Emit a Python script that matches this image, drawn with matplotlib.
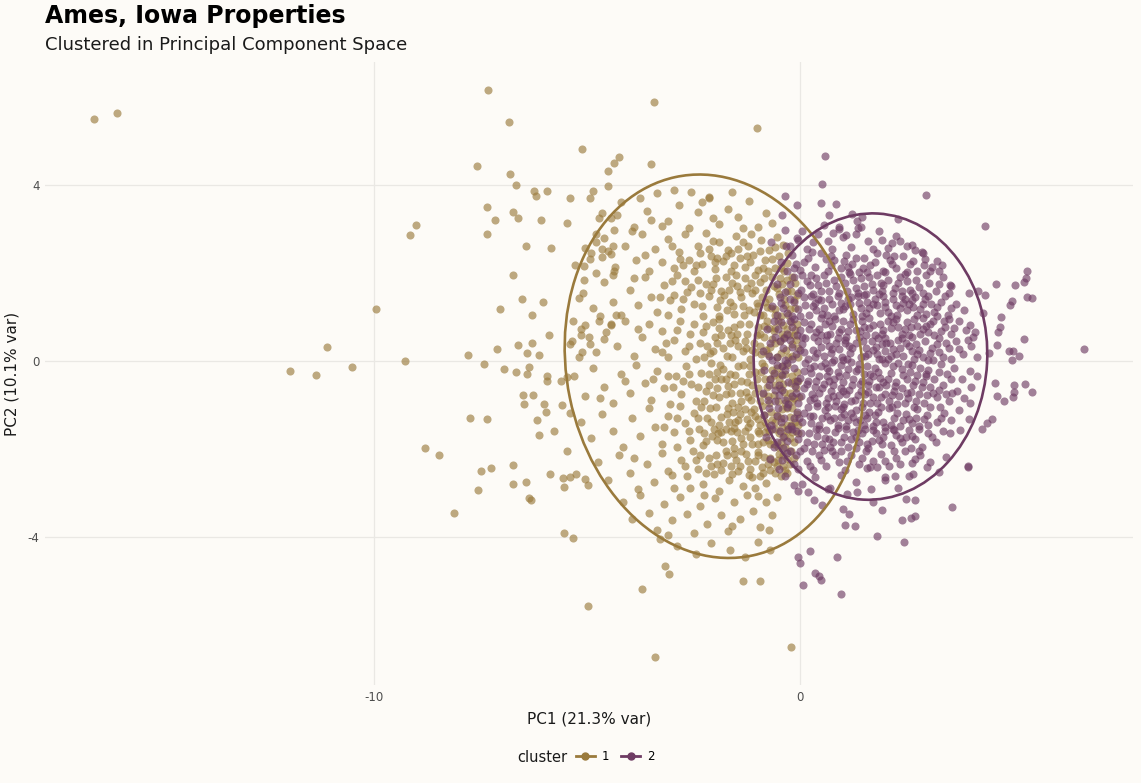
import matplotlib.pyplot as plt
from matplotlib.patches import Ellipse
from matplotlib.lines import Line2D
import numpy as np

plt.rcParams['axes.unicode_minus'] = False

# PC scores, (PC1, PC2)
cluster1_outliers = [
    (-16.56, 5.50), (-16.02, 5.64), (-11.97, -0.23), (-11.36, -0.32), (-11.10, 0.32), (-10.52, -0.14),
    (-9.95, 1.18), (-9.27, 0.0), (-9.16, 2.86), (-9.02, 3.09), (-8.81, -1.98), (-8.48, -2.14),
    (-8.13, -3.45), (-7.33, 6.16), (-6.84, 5.45), (-7.59, 4.43),
    (-5.11, 4.82), (-6.81, 4.25), (-6.67, 4.0), (-6.25, 3.86), (-6.21, 3.75), (-5.93, 3.86),
    (-5.41, 3.70), (-4.94, 3.70), (-4.87, 3.86), (-4.50, 4.32), (-4.36, 4.50), (-4.26, 4.64),
    (-4.50, 3.98), (-7.35, 3.50), (-7.17, 3.20), (-6.74, 3.39), (-6.63, 3.25), (-6.09, 3.20),
    (-5.46, 3.14), (-7.35, 2.89), (-6.44, 2.61), (-5.85, 2.57), (-6.74, 1.95), (-6.53, 1.41),
    (-6.04, 1.34), (-7.05, 1.18), (-6.30, 1.05), (-5.90, 0.59), (-7.12, 0.27), (-6.63, 0.36),
    (-6.30, 0.41), (-6.42, 0.18), (-6.14, 0.14), (-7.80, 0.14),
    (-5.29, 2.18), (-5.08, 2.16), (-4.80, 2.0), (-5.08, 1.84), (-5.20, 1.43), (-5.32, 0.91),
    (-5.15, 0.73), (-5.15, 0.59), (-5.39, 0.39), (-4.92, 0.39), (-5.11, 0.20), (-4.71, 0.91),
    (-4.45, 0.82), (-4.33, 1.05), (-4.61, 0.50), (-5.06, 2.57), (-4.92, 2.32), (-4.78, 2.70),
    (-4.66, 2.36), (-4.64, 2.55), (-4.45, 2.43), (-4.40, 2.61), (-4.40, 1.95), (-4.38, 2.05),
    (-4.36, 2.98), (-4.64, 3.36), (-4.71, 3.25), (-4.80, 2.89), (-4.29, 3.32),
    (-7.42, -0.07), (-6.96, -0.18), (-6.67, -0.25), (-6.42, -0.30), (-6.37, -0.14), (-5.93, -0.34),
    (-5.93, -0.45), (-5.62, -0.45), (-5.48, -0.36), (-6.51, -0.77), (-6.28, -0.77), (-6.49, -0.98),
    (-6.00, -0.98), (-5.97, -1.16), (-5.60, -1.0), (-7.75, -1.30), (-7.35, -1.32), (-6.18, -1.34),
    (-6.14, -1.68), (-5.78, -1.59), (-5.39, -1.18), (-7.49, -2.50), (-7.26, -2.43), (-6.74, -2.36),
    (-6.74, -2.80), (-6.44, -2.75), (-7.56, -2.93), (-6.37, -3.11), (-6.32, -3.16),
    (-5.88, -2.57), (-5.57, -2.66), (-5.41, -2.64), (-5.27, -2.57), (-5.53, -2.86), (-5.04, -2.68),
    (-4.99, -2.82), (-5.48, -2.05), (-5.55, -3.91), (-5.32, -4.02), (-4.99, -5.57),
    (-3.40, -6.73), (-3.70, -5.18), (-3.16, -4.66), (-3.07, -4.84), (-1.33, -5.0), (-0.94, -5.0),
    (-0.21, -6.52), (-1.01, 5.30), (-3.44, 5.89), (-3.49, 4.48), (-2.55, 3.84), (-2.13, 3.73),
]

cluster1_core = [
    (-4.2, 3.62), (-3.9, 3.05), (-3.6, 3.41), (-3.35, 3.82), (-3.1, 3.18), (-2.85, 3.55), (-2.6, 3.02),
    (-2.4, 3.38), (-2.15, 3.71), (-1.9, 3.12), (-1.7, 3.47), (-1.45, 3.28), (-1.2, 3.64), (-1.0, 3.05),
    (-0.8, 3.36), (-4.45, 3.25), (-3.75, 3.71), (-3.25, 3.08), (-2.95, 3.9), (-2.3, 3.62), (-1.6, 3.85),
    (-1.35, 3.02), (-0.65, 3.15), (-3.5, 3.2), (-2.05, 3.25),
    (-4.9, 2.45), (-4.6, 2.8), (-4.35, 2.15), (-4.1, 2.62), (-3.85, 2.3), (-3.7, 2.9), (-3.55, 2.05),
    (-3.4, 2.55), (-3.25, 2.25), (-3.1, 2.78), (-2.95, 2.12), (-2.85, 2.48), (-2.7, 2.88), (-2.6, 2.3),
    (-2.5, 2.05), (-2.4, 2.62), (-2.3, 2.2), (-2.2, 2.92), (-2.1, 2.4), (-2.0, 2.1), (-1.9, 2.7),
    (-1.8, 2.28), (-1.7, 2.52), (-1.62, 2.05), (-1.5, 2.85), (-1.42, 2.35), (-1.3, 2.15), (-1.22, 2.62),
    (-1.1, 2.42), (-1.0, 2.08), (-0.92, 2.75), (-0.82, 2.3), (-0.72, 2.52), (-0.6, 2.12), (-0.5, 2.4),
    (-0.4, 2.65), (-0.32, 2.22), (-3.95, 2.95), (-3.0, 2.62), (-2.75, 2.18), (-2.35, 2.45), (-1.95, 2.35),
    (-1.55, 2.18), (-1.15, 2.88), (-0.75, 2.05), (-4.5, 2.5), (-3.65, 2.42), (-2.05, 2.72), (-1.35, 2.7),
    (-0.55, 2.82),
    (-5.1, 1.55), (-4.85, 1.2), (-4.6, 1.8), (-4.4, 1.35), (-4.2, 1.05), (-4.0, 1.62), (-3.8, 1.28),
    (-3.65, 1.9), (-3.5, 1.45), (-3.35, 1.12), (-3.2, 1.72), (-3.05, 1.38), (-2.9, 1.95), (-2.8, 1.18),
    (-2.65, 1.58), (-2.5, 1.3), (-2.4, 1.85), (-2.28, 1.02), (-2.15, 1.48), (-2.05, 1.75), (-1.95, 1.22),
    (-1.85, 1.6), (-1.75, 1.92), (-1.65, 1.35), (-1.55, 1.08), (-1.48, 1.7), (-1.38, 1.45), (-1.3, 1.88),
    (-1.2, 1.15), (-1.12, 1.55), (-1.02, 1.32), (-0.95, 1.8), (-0.88, 1.05), (-0.8, 1.62), (-0.72, 1.4),
    (-0.65, 1.9), (-0.58, 1.18), (-0.5, 1.52), (-0.42, 1.75), (-0.35, 1.28), (-0.28, 1.05), (-0.22, 1.6),
    (-0.15, 1.38), (-4.7, 1.02), (-3.9, 1.88), (-3.1, 1.05), (-2.7, 1.82), (-2.35, 1.55), (-1.9, 1.02),
    (-1.6, 1.78), (-1.25, 1.65), (-0.98, 1.25), (-0.62, 1.7), (-0.45, 1.02), (-0.3, 1.85), (-2.95, 1.5),
    (-1.72, 1.15), (-1.05, 1.95), (-0.78, 1.22), (-0.12, 1.78),
    (-5.35, 0.45), (-5.05, 0.82), (-4.8, 0.2), (-4.55, 0.65), (-4.3, 0.35), (-4.1, 0.92), (-3.9, 0.12),
    (-3.7, 0.55), (-3.55, 0.85), (-3.4, 0.28), (-3.25, 0.68), (-3.1, 0.08), (-2.95, 0.48), (-2.82, 0.9),
    (-2.7, 0.22), (-2.58, 0.62), (-2.45, 0.05), (-2.35, 0.42), (-2.22, 0.8), (-2.12, 0.18), (-2.0, 0.55),
    (-1.9, 0.95), (-1.8, 0.3), (-1.7, 0.7), (-1.6, 0.1), (-1.52, 0.48), (-1.42, 0.85), (-1.35, 0.22),
    (-1.25, 0.62), (-1.18, 0.05), (-1.08, 0.4), (-1.0, 0.78), (-0.92, 0.15), (-0.85, 0.55), (-0.78, 0.92),
    (-0.7, 0.32), (-0.62, 0.68), (-0.55, 0.08), (-0.48, 0.45), (-0.4, 0.82), (-0.33, 0.25), (-0.26, 0.6),
    (-0.18, 0.12), (-0.1, 0.48), (-5.2, 0.1), (-4.95, 0.55), (-4.45, 0.85), (-3.8, 0.72), (-3.15, 0.4),
    (-2.62, 0.35), (-2.28, 0.65), (-1.95, 0.4), (-1.62, 0.6), (-1.3, 0.45), (-0.95, 0.35), (-0.75, 0.15),
    (-0.58, 0.75), (-0.38, 0.55), (-0.22, 0.88), (-0.05, 0.3),
    (-5.3, -0.35), (-5.05, -0.8), (-4.85, -0.15), (-4.6, -0.6), (-4.4, -0.95), (-4.2, -0.3), (-4.0, -0.72),
    (-3.85, -0.1), (-3.65, -0.5), (-3.5, -0.88), (-3.35, -0.22), (-3.2, -0.62), (-3.05, -0.98),
    (-2.92, -0.35), (-2.8, -0.75), (-2.68, -0.12), (-2.55, -0.52), (-2.45, -0.9), (-2.32, -0.28),
    (-2.2, -0.68), (-2.1, -0.05), (-2.0, -0.42), (-1.9, -0.82), (-1.8, -0.18), (-1.7, -0.58), (-1.6, -0.95),
    (-1.52, -0.32), (-1.42, -0.72), (-1.33, -0.1), (-1.25, -0.48), (-1.15, -0.88), (-1.07, -0.25),
    (-0.98, -0.62), (-0.9, -0.05), (-0.82, -0.4), (-0.75, -0.8), (-0.67, -0.2), (-0.6, -0.55),
    (-0.52, -0.92), (-0.45, -0.3), (-0.38, -0.7), (-0.3, -0.1), (-0.22, -0.5), (-0.15, -0.85),
    (-0.08, -0.25), (-4.7, -0.85), (-4.1, -0.45), (-3.45, -0.4), (-2.98, -0.6), (-2.6, -0.3), (-2.25, -0.9),
    (-1.95, -0.62), (-1.65, -0.3), (-1.38, -0.9), (-1.12, -0.55), (-0.88, -0.75), (-0.7, -0.42),
    (-0.55, -0.15), (-0.4, -0.52), (-0.25, -0.72), (-0.12, -0.45), (-1.85, -0.4), (-1.2, -0.3),
    (-0.95, -0.92), (-0.35, -0.95),
    (-5.15, -1.4), (-4.9, -1.75), (-4.65, -1.2), (-4.4, -1.6), (-4.15, -1.95), (-3.95, -1.3), (-3.75, -1.7),
    (-3.55, -1.08), (-3.4, -1.5), (-3.25, -1.88), (-3.1, -1.25), (-2.95, -1.62), (-2.82, -1.02),
    (-2.7, -1.42), (-2.58, -1.8), (-2.48, -1.18), (-2.38, -1.55), (-2.28, -1.92), (-2.18, -1.3),
    (-2.08, -1.7), (-1.98, -1.05), (-1.9, -1.45), (-1.8, -1.85), (-1.72, -1.2), (-1.62, -1.6),
    (-1.55, -1.98), (-1.45, -1.35), (-1.38, -1.75), (-1.3, -1.1), (-1.22, -1.5), (-1.13, -1.9),
    (-1.05, -1.25), (-0.97, -1.65), (-0.9, -1.02), (-0.82, -1.4), (-0.75, -1.8), (-0.68, -1.15),
    (-0.6, -1.55), (-0.52, -1.95), (-0.45, -1.3), (-0.38, -1.7), (-0.3, -1.08), (-0.22, -1.45),
    (-0.15, -1.85), (-0.08, -1.2), (-2.9, -1.95), (-2.32, -1.05), (-2.02, -1.55), (-1.68, -1.38),
    (-1.48, -1.62), (-1.18, -1.72), (-0.95, -1.45), (-0.72, -1.6), (-0.55, -1.22), (-0.35, -1.95),
    (-0.18, -1.62), (-1.85, -1.62), (-1.58, -1.15), (-1.25, -1.32), (-1.0, -1.88), (-0.85, -1.22),
    (-0.62, -1.9), (-0.42, -1.5), (-0.25, -1.28), (-2.2, -1.82),
    (-4.75, -2.3), (-4.5, -2.7), (-4.25, -2.15), (-4.0, -2.55), (-3.8, -2.92), (-3.6, -2.35),
    (-3.42, -2.75), (-3.25, -2.1), (-3.1, -2.5), (-2.95, -2.88), (-2.8, -2.25), (-2.65, -2.62),
    (-2.52, -2.05), (-2.4, -2.45), (-2.28, -2.8), (-2.15, -2.2), (-2.02, -2.58), (-1.9, -2.95),
    (-1.8, -2.32), (-1.68, -2.7), (-1.55, -2.12), (-1.45, -2.5), (-1.35, -2.85), (-1.22, -2.28),
    (-1.12, -2.65), (-1.0, -2.08), (-0.9, -2.42), (-0.8, -2.78), (-0.7, -2.2), (-0.6, -2.55),
    (-0.5, -2.12), (-0.4, -2.38), (-0.3, -2.22), (-0.22, -2.05), (-3.9, -2.2), (-3.0, -2.6),
    (-2.58, -2.9), (-2.1, -2.4), (-1.62, -2.38), (-1.28, -2.12), (-0.95, -2.62), (-0.62, -2.3),
    (-0.45, -2.62), (-1.75, -2.05), (-2.35, -2.15), (-1.05, -2.88), (-0.85, -2.18), (-0.35, -2.48),
    (-4.15, -3.2), (-3.95, -3.6), (-3.75, -3.05), (-3.55, -3.45), (-3.35, -3.85), (-3.2, -3.25),
    (-3.0, -3.62), (-2.82, -3.1), (-2.65, -3.48), (-2.5, -3.92), (-2.35, -3.3), (-2.18, -3.7),
    (-2.0, -3.12), (-1.85, -3.5), (-1.7, -3.88), (-1.55, -3.22), (-1.4, -3.6), (-1.25, -3.05),
    (-1.1, -3.42), (-0.95, -3.78), (-0.8, -3.2), (-0.65, -3.5), (-0.55, -3.1), (-3.1, -3.95),
    (-2.25, -3.05), (-1.6, -3.75), (-1.0, -3.08), (-0.72, -3.85),
    (-2.9, -4.2), (-2.45, -4.4), (-2.1, -4.15), (-1.65, -4.3), (-1.3, -4.45), (-1.0, -4.12),
    (-0.7, -4.3), (-3.3, -4.05),
]

# the thick band of cluster 1 next to the cluster boundary
cluster1_dense = [
    (-2.82, 2.32), (-2.45, 2.18), (-2.15, 2.55), (-1.75, 2.38), (-1.45, 2.55), (-1.18, 2.25),
    (-0.95, 2.5), (-0.65, 2.32), (-0.45, 2.12), (-0.28, 2.45),
    (-3.3, 1.45), (-3.0, 1.82), (-2.75, 1.4), (-2.55, 1.68), (-2.3, 1.25), (-2.1, 1.62), (-1.98, 1.88),
    (-1.78, 1.5), (-1.58, 1.25), (-1.42, 1.58), (-1.32, 1.05), (-1.15, 1.78), (-1.08, 1.12),
    (-0.9, 1.45), (-0.85, 1.88), (-0.68, 1.2), (-0.55, 1.65), (-0.38, 1.42), (-0.25, 1.18),
    (-0.18, 1.9), (-0.08, 1.5),
    (-3.25, 0.2), (-2.9, 0.7), (-2.5, 0.85), (-2.18, 0.35), (-2.05, 0.88), (-1.85, 0.58), (-1.72, 0.12),
    (-1.55, 0.78), (-1.45, 0.35), (-1.2, 0.85), (-1.12, 0.25), (-1.02, 0.58), (-0.85, 0.8), (-0.8, 0.25),
    (-0.65, 0.5), (-0.52, 0.92), (-0.45, 0.18), (-0.3, 0.72), (-0.2, 0.38), (-0.12, 0.7), (-0.05, 0.1),
    (-3.1, -0.35), (-2.75, -0.45), (-2.4, -0.6), (-2.15, -0.3), (-2.05, -0.78), (-1.88, -0.1),
    (-1.75, -0.75), (-1.55, -0.52), (-1.45, -0.12), (-1.28, -0.7), (-1.18, -0.12), (-1.02, -0.42),
    (-0.92, -0.25), (-0.78, -0.6), (-0.62, -0.78), (-0.5, -0.4), (-0.42, -0.12), (-0.32, -0.85),
    (-0.18, -0.35), (-0.1, -0.62), (-0.02, -0.82),
    (-3.2, -1.5), (-2.88, -1.3), (-2.62, -1.6), (-2.4, -1.3), (-2.25, -1.65), (-2.12, -1.08),
    (-1.95, -1.8), (-1.85, -1.28), (-1.75, -1.55), (-1.6, -1.82), (-1.52, -1.4), (-1.4, -1.2),
    (-1.3, -1.6), (-1.18, -1.42), (-1.08, -1.1), (-1.0, -1.6), (-0.88, -1.85), (-0.78, -1.5),
    (-0.65, -1.35), (-0.5, -1.65), (-0.42, -1.1), (-0.32, -1.45), (-0.25, -1.75), (-0.12, -1.38),
    (-0.05, -1.65),
    (-2.7, -2.4), (-2.45, -2.25), (-2.2, -2.55), (-1.98, -2.15), (-1.85, -2.48), (-1.6, -2.58),
    (-1.5, -2.25), (-1.38, -2.05), (-1.18, -2.45), (-1.05, -2.28), (-0.88, -2.55), (-0.75, -2.35),
    (-0.55, -2.4), (-0.4, -2.15), (-0.25, -2.35),
    (-2.0, 2.25), (-1.62, 2.45), (-1.25, 2.4), (-0.88, 2.12), (-0.6, 2.6), (-0.38, 2.05),
    (-2.2, 1.75), (-1.88, 1.38), (-1.68, 1.62), (-1.5, 1.95), (-1.35, 1.25), (-1.05, 1.62),
    (-0.82, 1.35), (-0.6, 1.05), (-0.48, 1.88), (-0.32, 1.6), (-0.12, 1.2), (-0.95, 1.05),
    (-2.25, 0.1), (-2.05, 0.22), (-1.9, 0.75), (-1.65, 0.42), (-1.48, 0.62), (-1.28, 0.3), (-1.05, 0.2),
    (-0.95, 0.62), (-0.72, 0.75), (-0.6, 0.4), (-0.42, 0.62), (-0.28, 0.08), (-0.15, 0.58), (-0.08, 0.85),
    (-2.15, -0.55), (-1.95, -0.25), (-1.75, -0.4), (-1.62, -0.72), (-1.38, -0.45), (-1.22, -0.82),
    (-1.05, -0.72), (-0.85, -0.12), (-0.72, -0.95), (-0.62, -0.32), (-0.48, -0.62), (-0.35, -0.3),
    (-0.2, -0.92), (-0.05, -0.45),
    (-2.1, -1.38), (-1.92, -1.65), (-1.7, -1.08), (-1.55, -1.52), (-1.35, -1.88), (-1.15, -1.15),
    (-0.98, -1.32), (-0.82, -1.62), (-0.7, -1.9), (-0.58, -1.4), (-0.45, -1.85), (-0.3, -1.6),
    (-0.18, -1.08), (-0.05, -1.45), (-1.45, -1.05),
    (-1.95, -2.35), (-1.72, -2.15), (-1.42, -2.38), (-1.2, -2.6), (-0.98, -2.15), (-0.7, -2.48),
    (-0.52, -2.25), (-0.3, -2.55), (-0.15, -2.2),
]

cluster2_outliers = [
    (0.59, 4.66), (0.52, 4.02), (0.49, 3.59), (0.84, 3.57), (-0.35, 3.75), (-0.07, 3.55), (-0.42, 3.32),
    (2.95, 3.77), (4.33, 3.07), (0.68, 3.32), (1.22, 3.34), (1.33, 3.18), (1.45, 3.27), (2.30, 3.23),
    (-0.35, 2.98), (0.77, 2.91), (0.91, 3.0), (1.36, 3.02), (1.08, 2.86), (-0.68, 2.70), (-0.33, 2.61),
    (-0.07, 2.80), (1.92, 2.75), (2.34, 2.73), (2.62, 2.64), (2.88, 2.45), (3.21, 2.27), (3.33, 2.18),
    (3.51, 1.73), (3.49, 1.55), (3.96, 1.55), (4.17, 1.59), (4.33, 1.50), (4.59, 1.75), (5.04, 1.73),
    (5.25, 1.80), (5.32, 2.05), (5.29, 1.89), (5.43, 1.43), (5.32, 1.45), (4.96, 1.36), (4.92, 1.27),
    (4.71, 1.0), (4.29, 1.09), (3.98, 0.82), (4.10, 0.66), (4.64, 0.66), (4.68, 0.77), (4.61, 0.36),
    (4.89, 0.23), (4.99, 0.23), (5.13, 0.11), (5.25, 0.50), (4.96, 0.02), (4.43, 0.18), (3.93, 0.48),
    (6.65, 0.27),
    (5.01, -0.55), (5.27, -0.52), (5.43, -0.70), (5.01, -0.70), (4.99, -0.82), (4.78, -0.91),
    (4.61, -0.80), (4.57, -0.50), (4.50, -1.32), (4.38, -1.41), (4.26, -1.55), (3.96, -1.32),
    (3.93, -2.39), (3.93, -2.41), (3.56, -3.32), (3.75, -1.57), (3.51, -1.64), (3.42, -2.18),
    (3.26, -2.52), (2.69, -3.16), (2.48, -3.14), (2.39, -3.61), (2.60, -3.57), (2.69, -3.52),
    (2.44, -4.11), (1.80, -3.98), (1.92, -3.39), (1.71, -3.20), (1.29, -3.75), (1.05, -3.73),
    (1.15, -3.48), (1.01, -3.36), (1.33, -2.98), (1.10, -3.02), (1.66, -2.91), (0.52, -3.27),
    (0.33, -3.16), (0.19, -2.98), (-0.14, -2.82), (0.66, -2.91), (0.87, -4.45), (0.23, -4.32),
    (-0.05, -4.45), (0.0, -4.59), (0.35, -4.82), (0.44, -4.89), (0.49, -4.98), (0.07, -5.09),
    (0.96, -5.30), (1.57, -2.43), (1.80, -2.41), (1.99, -2.64), (2.22, -2.61), (2.65, -2.57),
    (2.97, -2.41), (3.56, -0.73), (3.98, -0.95), (3.28, -1.05),
]

cluster2_core = [
    (-0.25, 2.62), (0.05, 2.95), (0.3, 2.7), (0.55, 3.1), (0.75, 2.55), (1.0, 2.82), (1.2, 2.6),
    (1.42, 3.05), (1.6, 2.72), (1.85, 2.95), (2.05, 2.58), (2.25, 2.85), (2.5, 2.62), (2.7, 2.52),
    (0.15, 2.55), (0.42, 2.88), (0.9, 3.05), (1.3, 2.88), (1.72, 2.55), (2.15, 2.68), (-0.05, 2.75),
    (0.65, 2.72),
    (-0.45, 2.25), (-0.2, 2.42), (0.0, 2.08), (0.18, 2.35), (0.35, 2.15), (0.5, 2.45), (0.65, 2.05),
    (0.8, 2.3), (0.95, 2.12), (1.08, 2.42), (1.22, 2.2), (1.38, 2.02), (1.5, 2.35), (1.65, 2.18),
    (1.8, 2.45), (1.95, 2.05), (2.1, 2.3), (2.25, 2.12), (2.42, 2.4), (2.58, 2.2), (2.75, 2.05),
    (2.92, 2.32), (3.1, 2.15), (3.25, 2.05), (-0.1, 2.2), (0.28, 2.48), (0.72, 2.4), (1.15, 2.02),
    (1.58, 2.02), (2.02, 2.42), (2.5, 2.02), (2.85, 2.48),
    (-0.55, 1.75), (-0.35, 1.58), (-0.15, 1.9), (0.02, 1.62), (0.15, 1.82), (0.3, 1.52), (0.42, 1.72),
    (0.55, 1.95), (0.68, 1.6), (0.8, 1.85), (0.92, 1.55), (1.05, 1.78), (1.18, 1.98), (1.3, 1.65),
    (1.42, 1.88), (1.55, 1.52), (1.68, 1.75), (1.8, 1.95), (1.92, 1.6), (2.05, 1.85), (2.18, 1.55),
    (2.3, 1.78), (2.45, 1.98), (2.58, 1.62), (2.72, 1.85), (2.88, 1.55), (3.02, 1.78), (3.18, 1.6),
    (3.35, 1.9), (3.55, 1.7), (-0.25, 1.75), (0.25, 1.95), (0.6, 1.78), (1.1, 1.6), (1.5, 1.7),
    (1.95, 1.72), (2.4, 1.6), (2.95, 1.95),
    (-0.65, 1.25), (-0.48, 1.45), (-0.3, 1.1), (-0.15, 1.35), (0.0, 1.02), (0.12, 1.28), (0.25, 1.48),
    (0.38, 1.15), (0.5, 1.38), (0.62, 1.05), (0.75, 1.3), (0.88, 1.48), (1.0, 1.18), (1.12, 1.4),
    (1.25, 1.08), (1.38, 1.32), (1.5, 1.5), (1.62, 1.2), (1.75, 1.42), (1.88, 1.1), (2.0, 1.35),
    (2.12, 1.02), (2.25, 1.28), (2.38, 1.48), (2.5, 1.15), (2.62, 1.38), (2.75, 1.05), (2.88, 1.3),
    (3.0, 1.48), (3.15, 1.12), (3.3, 1.35), (3.48, 1.05), (3.65, 1.3), (3.85, 1.15), (-0.4, 1.2),
    (0.3, 1.25), (0.95, 1.32), (1.45, 1.02), (1.95, 1.48), (2.45, 1.4), (2.95, 1.08), (3.4, 1.48),
    (-0.78, 0.72), (-0.6, 0.55), (-0.45, 0.88), (-0.3, 0.62), (-0.15, 0.95), (0.0, 0.7), (0.12, 0.52),
    (0.25, 0.85), (0.38, 0.65), (0.5, 0.98), (0.62, 0.58), (0.75, 0.8), (0.88, 0.52), (1.0, 0.9),
    (1.12, 0.68), (1.25, 0.95), (1.38, 0.55), (1.5, 0.78), (1.62, 0.98), (1.75, 0.6), (1.88, 0.85),
    (2.0, 0.52), (2.12, 0.75), (2.25, 0.95), (2.38, 0.62), (2.5, 0.88), (2.62, 0.55), (2.75, 0.8),
    (2.88, 0.98), (3.0, 0.65), (3.12, 0.9), (3.25, 0.52), (3.4, 0.78), (3.55, 0.62), (3.72, 0.92),
    (3.9, 0.7), (4.05, 0.55), (-0.2, 0.78), (0.45, 0.72), (0.95, 0.72), (1.45, 0.9), (1.95, 0.7),
    (2.45, 0.72), (2.95, 0.8), (3.5, 0.95),
    (-0.88, 0.22), (-0.7, 0.4), (-0.55, 0.08), (-0.4, 0.3), (-0.25, 0.48), (-0.1, 0.15), (0.05, 0.38),
    (0.18, 0.05), (0.3, 0.25), (0.42, 0.45), (0.55, 0.12), (0.68, 0.35), (0.8, 0.02), (0.92, 0.28),
    (1.05, 0.48), (1.18, 0.18), (1.3, 0.4), (1.42, 0.08), (1.55, 0.3), (1.68, 0.45), (1.8, 0.15),
    (1.92, 0.38), (2.05, 0.05), (2.18, 0.28), (2.3, 0.48), (2.42, 0.12), (2.55, 0.35), (2.68, 0.05),
    (2.8, 0.25), (2.92, 0.45), (3.05, 0.18), (3.2, 0.38), (3.35, 0.08), (3.5, 0.3), (3.65, 0.45),
    (3.82, 0.15), (4.0, 0.35), (4.15, 0.1), (-0.35, 0.02), (0.6, 0.48), (1.1, 0.05), (1.6, 0.15),
    (2.1, 0.42), (2.62, 0.22), (3.12, 0.02),
    (-0.85, -0.2), (-0.7, -0.42), (-0.55, -0.1), (-0.42, -0.32), (-0.28, -0.48), (-0.15, -0.15),
    (0.0, -0.38), (0.12, -0.05), (0.25, -0.28), (0.38, -0.45), (0.5, -0.12), (0.62, -0.35),
    (0.75, -0.02), (0.88, -0.25), (1.0, -0.48), (1.12, -0.18), (1.25, -0.4), (1.38, -0.08), (1.5, -0.3),
    (1.62, -0.45), (1.75, -0.15), (1.88, -0.38), (2.0, -0.05), (2.12, -0.28), (2.25, -0.48),
    (2.38, -0.18), (2.5, -0.4), (2.62, -0.1), (2.75, -0.32), (2.88, -0.48), (3.0, -0.2), (3.15, -0.42),
    (3.3, -0.08), (3.45, -0.3), (3.62, -0.15), (3.8, -0.4), (3.98, -0.22), (4.15, -0.35), (-0.3, -0.05),
    (0.18, -0.45), (0.68, -0.22), (1.2, -0.02), (1.72, -0.35), (2.3, -0.05), (2.82, -0.15),
    (-0.88, -0.72), (-0.72, -0.55), (-0.58, -0.9), (-0.42, -0.65), (-0.28, -0.98), (-0.12, -0.58),
    (0.02, -0.8), (0.15, -0.52), (0.28, -0.75), (0.4, -0.95), (0.52, -0.62), (0.65, -0.85),
    (0.78, -0.55), (0.9, -0.78), (1.02, -0.98), (1.15, -0.65), (1.28, -0.88), (1.4, -0.52),
    (1.52, -0.75), (1.65, -0.95), (1.78, -0.6), (1.9, -0.82), (2.02, -0.55), (2.15, -0.78),
    (2.28, -0.98), (2.4, -0.62), (2.52, -0.85), (2.65, -0.55), (2.78, -0.75), (2.9, -0.95),
    (3.05, -0.6), (3.2, -0.82), (3.35, -0.55), (3.5, -0.9), (3.68, -0.68), (3.85, -0.85), (4.02, -0.6),
    (-0.5, -0.78), (0.35, -0.6), (0.95, -0.62), (1.6, -0.7), (2.2, -0.68),
    (-0.85, -1.22), (-0.68, -1.45), (-0.52, -1.08), (-0.38, -1.3), (-0.22, -1.48), (-0.08, -1.15),
    (0.05, -1.38), (0.18, -1.05), (0.3, -1.25), (0.45, -1.45), (0.58, -1.12), (0.7, -1.35),
    (0.82, -1.02), (0.95, -1.28), (1.08, -1.48), (1.2, -1.18), (1.32, -1.4), (1.45, -1.05),
    (1.58, -1.3), (1.7, -1.48), (1.82, -1.15), (1.95, -1.38), (2.08, -1.08), (2.2, -1.3),
    (2.35, -1.48), (2.48, -1.2), (2.62, -1.42), (2.75, -1.1), (2.9, -1.32), (3.05, -1.05), (3.2, -1.4),
    (3.38, -1.18), (3.55, -1.35), (3.72, -1.12), (-0.3, -1.05), (0.4, -1.02), (1.0, -1.05),
    (1.5, -1.45), (2.15, -1.05), (2.8, -1.48),
    (-0.8, -1.72), (-0.62, -1.95), (-0.48, -1.6), (-0.32, -1.82), (-0.18, -1.55), (-0.05, -1.78),
    (0.08, -1.98), (0.2, -1.65), (0.32, -1.88), (0.45, -1.55), (0.58, -1.75), (0.7, -1.95),
    (0.82, -1.62), (0.95, -1.85), (1.08, -1.55), (1.2, -1.78), (1.32, -1.98), (1.45, -1.65),
    (1.58, -1.88), (1.7, -1.58), (1.85, -1.8), (1.98, -1.6), (2.12, -1.92), (2.25, -1.68),
    (2.4, -1.85), (2.55, -1.58), (2.7, -1.78), (2.85, -1.95), (3.0, -1.65), (3.18, -1.85),
    (3.35, -1.6), (-0.4, -1.98), (0.6, -1.58), (1.6, -1.98), (2.6, -1.98),
    (-0.7, -2.22), (-0.5, -2.45), (-0.32, -2.1), (-0.15, -2.35), (0.0, -2.05), (0.15, -2.28),
    (0.3, -2.48), (0.45, -2.15), (0.6, -2.38), (0.75, -2.05), (0.9, -2.3), (1.05, -2.48), (1.2, -2.15),
    (1.38, -2.35), (1.55, -2.05), (1.72, -2.28), (1.9, -2.12), (2.08, -2.4), (2.25, -2.2),
    (2.45, -2.05), (2.62, -2.32), (2.82, -2.15), (3.05, -2.3), (-0.05, -2.45), (0.55, -2.02),
    (-0.35, -2.62), (0.05, -2.8), (0.35, -2.65), (0.7, -2.9), (0.95, -2.6), (1.3, -2.75), (2.0, -2.7),
    (2.3, -2.9), (2.55, -2.62), (-0.05, -2.95),
]

# the solid middle of cluster 2
cluster2_dense = [
    (-0.3, 2.05), (-0.05, 1.55), (0.1, 2.25), (0.38, 1.88), (0.48, 1.6), (0.72, 2.18), (0.85, 1.7),
    (1.02, 2.28), (1.25, 1.85), (1.35, 1.55), (1.62, 1.92), (1.75, 2.25), (1.9, 1.78), (2.15, 2.2),
    (2.22, 1.65), (2.5, 1.82), (2.65, 2.28), (2.8, 1.68), (3.05, 2.05), (3.25, 1.75),
    (-0.55, 1.05), (-0.25, 1.42), (-0.05, 1.18), (0.2, 1.05), (0.42, 1.4), (0.55, 1.2), (0.8, 1.02),
    (1.05, 1.25), (1.2, 1.45), (1.42, 1.2), (1.58, 1.35), (1.8, 1.28), (2.05, 1.12), (2.18, 1.42),
    (2.35, 1.2), (2.55, 1.3), (2.7, 1.45), (2.82, 1.18), (3.08, 1.3), (3.22, 1.02), (3.55, 1.2),
    (-0.62, 0.9), (-0.38, 0.52), (-0.08, 0.6), (0.08, 0.88), (0.32, 0.55), (0.58, 0.85), (0.7, 0.62),
    (0.82, 0.95), (1.08, 0.55), (1.3, 0.7), (1.55, 0.58), (1.7, 0.82), (1.82, 0.52), (2.05, 0.92),
    (2.3, 0.78), (2.55, 0.6), (2.68, 0.95), (2.82, 0.62), (3.05, 0.85), (3.3, 0.68), (3.62, 0.75),
    (-0.72, 0.12), (-0.48, 0.45), (-0.18, 0.32), (0.1, 0.2), (0.35, 0.08), (0.48, 0.32), (0.72, 0.18),
    (0.85, 0.42), (0.98, 0.1), (1.22, 0.3), (1.48, 0.45), (1.7, 0.25), (1.85, 0.05), (1.98, 0.22),
    (2.25, 0.15), (2.48, 0.42), (2.72, 0.38), (2.88, 0.1), (3.1, 0.3), (3.42, 0.4), (3.72, 0.28),
    (-0.62, -0.28), (-0.35, -0.2), (-0.08, -0.45), (0.08, -0.22), (0.32, -0.12), (0.45, -0.35),
    (0.58, -0.05), (0.8, -0.4), (0.95, -0.1), (1.08, -0.32), (1.32, -0.22), (1.45, -0.45),
    (1.58, -0.12), (1.82, -0.25), (2.05, -0.4), (2.18, -0.12), (2.42, -0.32), (2.58, -0.25),
    (2.7, -0.45), (2.95, -0.35), (3.25, -0.25), (3.55, -0.4),
    (-0.75, -0.88), (-0.5, -0.55), (-0.2, -0.8), (-0.05, -0.95), (0.22, -0.88), (0.45, -0.72),
    (0.6, -0.95), (0.72, -0.68), (0.85, -0.92), (1.08, -0.75), (1.22, -0.55), (1.35, -0.78),
    (1.48, -0.95), (1.72, -0.82), (1.85, -0.6), (2.08, -0.9), (2.32, -0.8), (2.45, -0.95),
    (2.6, -0.7), (2.85, -0.6), (3.12, -0.72), (3.42, -0.75),
    (-0.72, -1.08), (-0.45, -1.4), (-0.15, -1.3), (0.1, -1.18), (0.25, -1.42), (0.52, -1.3),
    (0.65, -1.05), (0.88, -1.45), (1.02, -1.2), (1.25, -1.28), (1.4, -1.35), (1.62, -1.15),
    (1.78, -1.4), (1.9, -1.05), (2.12, -1.45), (2.28, -1.18), (2.55, -1.32), (2.68, -1.05),
    (2.98, -1.22), (3.3, -1.3),
    (-0.65, -1.55), (-0.4, -1.72), (-0.1, -1.6), (0.15, -1.85), (0.4, -1.7), (0.68, -1.78),
    (0.88, -1.52), (1.02, -1.72), (1.25, -1.62), (1.38, -1.85), (1.52, -1.55), (1.78, -1.65),
    (1.92, -1.9), (2.18, -1.55), (2.35, -1.75), (2.62, -1.7), (2.8, -1.55), (3.1, -1.72),
    (-0.42, -2.25), (-0.1, -2.15), (0.22, -2.38), (0.5, -2.25), (0.82, -2.15), (1.1, -2.28),
    (1.45, -2.2), (1.65, -2.42), (2.0, -2.28), (2.35, -2.35), (2.7, -2.22),
    (-0.15, 2.12), (0.22, 1.72), (0.6, 2.32), (0.95, 1.92), (1.12, 2.15), (1.48, 2.12), (1.72, 1.62),
    (2.0, 2.02), (2.35, 1.9), (2.62, 1.55), (2.9, 2.18), (0.05, 1.95), (1.3, 2.35), (2.2, 2.4),
    (-0.45, 1.32), (-0.2, 1.02), (0.08, 1.45), (0.35, 1.32), (0.68, 1.42), (0.9, 1.15), (1.18, 1.3),
    (1.35, 1.48), (1.55, 1.1), (1.7, 1.3), (1.98, 1.22), (2.28, 1.05), (2.42, 1.32), (2.65, 1.22),
    (2.92, 1.42), (3.2, 1.22), (0.52, 1.08), (1.85, 1.52),
    (-0.52, 0.72), (-0.25, 0.9), (0.05, 0.55), (0.2, 0.72), (0.48, 0.6), (0.68, 0.92), (0.9, 0.65),
    (1.18, 0.85), (1.4, 0.68), (1.62, 0.75), (1.92, 0.62), (2.18, 0.88), (2.4, 0.52), (2.6, 0.78),
    (2.88, 0.72), (3.15, 0.6), (3.38, 0.92), (1.05, 0.42), (2.02, 0.42),
    (-0.65, 0.02), (-0.42, -0.12), (-0.2, 0.05), (0.0, 0.25), (0.22, -0.15), (0.4, 0.18), (0.62, -0.15),
    (0.75, 0.28), (1.0, 0.02), (1.15, 0.35), (1.35, -0.18), (1.52, 0.12), (1.65, -0.3), (1.92, 0.05),
    (2.12, 0.12), (2.35, 0.3), (2.52, -0.08), (2.75, 0.15), (3.0, 0.02), (3.25, 0.2), (3.55, 0.05),
    (0.9, -0.35), (1.78, 0.32), (2.95, -0.3),
    (-0.6, -0.65), (-0.35, -0.88), (-0.1, -0.72), (0.1, -0.62), (0.32, -0.85), (0.55, -0.52),
    (0.78, -0.8), (1.0, -0.68), (1.2, -0.92), (1.42, -0.68), (1.6, -0.55), (1.8, -0.95), (2.0, -0.75),
    (2.22, -0.58), (2.5, -0.72), (2.72, -0.9), (2.98, -0.78), (3.25, -0.65), (0.68, -0.45),
    (1.95, -0.48),
    (-0.55, -1.25), (-0.28, -1.55), (-0.02, -1.3), (0.22, -1.25), (0.38, -1.55), (0.62, -1.25),
    (0.8, -1.3), (1.12, -1.35), (1.3, -1.12), (1.52, -1.22), (1.75, -1.22), (1.98, -1.5), (2.2, -1.58),
    (2.42, -1.35), (2.72, -1.3), (3.0, -1.45), (1.35, -1.58), (0.95, -1.1),
    (-0.55, -1.85), (-0.25, -2.05), (0.02, -1.65), (0.28, -2.05), (0.52, -1.9), (0.78, -1.85),
    (1.12, -1.95), (1.3, -1.72), (1.68, -1.82), (1.95, -1.72), (2.2, -2.05), (2.48, -1.72),
    (2.78, -2.05), (0.95, -2.05),
]

# 95% ellipses: centre, semi axes, rotation (deg)
ellipse_centres = [(-2.02, -0.12), (1.65, 0.10)]
ellipse_semi_axes = [(4.40, 3.46), (3.26, 2.74)]
ellipse_angles = [102, 87]

cluster_names = ['1', '2']
x_ticks = [-10, 0]
y_ticks = [-4, 0, 4]

colors = ['#9A7A3C', '#6E3B63']
bg = '#FDFBF7'

clusters = [np.array(cluster1_outliers + cluster1_core + cluster1_dense),
            np.array(cluster2_outliers + cluster2_core + cluster2_dense)]

fig = plt.figure(figsize=(11.41, 7.83), dpi=100, facecolor=bg)
ax = fig.add_axes([45 / 1141, 1 - 685 / 783, 1088 / 1141, 623 / 783])
ax.set_facecolor(bg)

for pts, col in zip(clusters, colors):
    ax.scatter(pts[:, 0], pts[:, 1], s=34, color=col, alpha=0.64,
               linewidths=0, zorder=2)

for (cx, cy), (a, b), ang, col in zip(ellipse_centres, ellipse_semi_axes,
                                      ellipse_angles, colors):
    ax.add_patch(Ellipse((cx, cy), 2 * a, 2 * b, angle=ang, fill=False,
                         edgecolor=col, linewidth=1.9, zorder=3))

# ggplot-style 5% expansion
allpts = np.vstack(clusters)
xmin, xmax = allpts[:, 0].min(), allpts[:, 0].max()
ymin, ymax = allpts[:, 1].min(), allpts[:, 1].max()
ax.set_xlim(xmin - 0.05 * (xmax - xmin), xmax + 0.05 * (xmax - xmin))
ax.set_ylim(ymin - 0.05 * (ymax - ymin), ymax + 0.05 * (ymax - ymin))

ax.set_xticks(x_ticks)
ax.set_yticks(y_ticks)
ax.grid(True, color='#EAE8E4', linewidth=0.9, zorder=0)
ax.set_axisbelow(True)
for s in ax.spines.values():
    s.set_visible(False)
ax.tick_params(length=0, labelsize=8.5, labelcolor='#4D4D4D', pad=4)

ax.set_xlabel('PC1 (21.3% var)', fontsize=11, color='#1A1A1A', labelpad=6)
ax.set_ylabel('PC2 (10.1% var)', fontsize=11, color='#1A1A1A', labelpad=6)

fig.text(45 / 1141, 1 - 16 / 783, 'Ames, Iowa Properties', fontsize=17,
         fontweight='bold', va='center', ha='left', color='black')
fig.text(45 / 1141, 1 - 45 / 783, 'Clustered in Principal Component Space',
         fontsize=13, va='center', ha='left', color='#1A1A1A')

handles = [Line2D([0], [0], color=c, linewidth=2, marker='o', markersize=5)
           for c in colors]
fig.text(567 / 1141, 1 - 757 / 783, 'cluster', fontsize=10.5, ha='right',
         va='center', color='#1A1A1A')
fig.legend(handles, cluster_names, loc='center left',
           bbox_to_anchor=(576 / 1141, 1 - 757 / 783), ncol=2, frameon=False,
           fontsize=8.5, handlelength=1.6, handletextpad=0.6,
           columnspacing=1.0, borderaxespad=0, borderpad=0)

fig.savefig('out.png', dpi=100, facecolor=bg)
